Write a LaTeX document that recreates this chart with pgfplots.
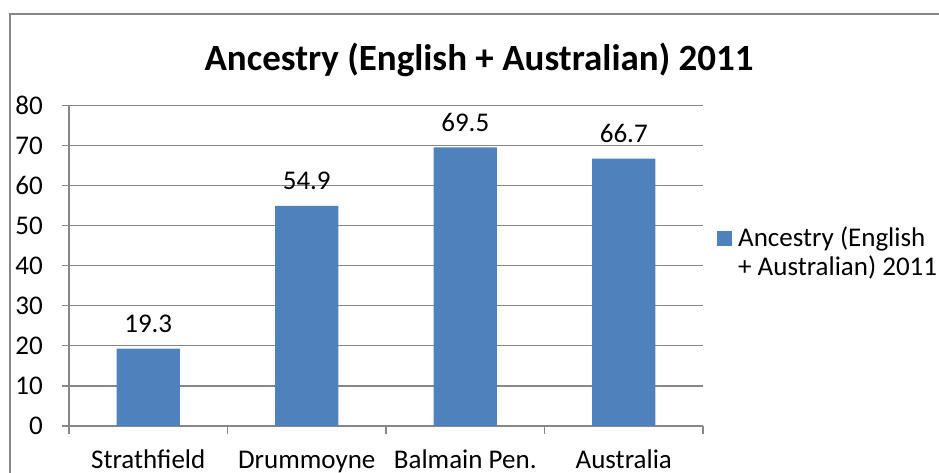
\documentclass[border=0pt]{standalone}
\usepackage{fontspec}
\setmainfont{Carlito}
\usepackage{pgfplots}
\pgfplotsset{compat=1.18}
\definecolor{barblue}{HTML}{4F81BD}
\definecolor{axgray}{HTML}{868686}
\begin{document}
\begin{tikzpicture}[x=1pt,y=1pt]
\useasboundingbox (0,0) rectangle (939,473);
\draw[axgray, line width=1.3pt] (10,0) -- (10,459) -- (940,459);
\node[anchor=base, inner sep=0pt, font=\fontsize{37}{44}\selectfont\bfseries] at (479,402) {Ancestry (English + Australian) 2011};
\begin{axis}[
  at={(69pt,47pt)}, anchor=south west,
  scale only axis, width=634pt, height=320.7pt,
  xmin=-0.5, xmax=3.5, ymin=0, ymax=80,
  ytick={0,10,...,80},
  xtick={0,1,2,3},
  xticklabels={Strathfield, Drummoyne, Balmain Pen., Australia},
  minor xtick={-0.5,0.5,1.5,2.5,3.5},
  axis x line*=bottom, axis y line*=left,
  axis line style={axgray, line width=1.3pt, -},
  ymajorgrids, grid style={axgray, line width=1.3pt},
  tick align=outside,
  major tick length=7pt, minor tick length=8pt,
  tick style={axgray, line width=1.3pt},
  major x tick style={draw=none},
  ticklabel style={font=\fontsize{27}{32}\selectfont},
  /pgf/number format/assume math mode=true,
  yticklabel style={inner sep=0pt, anchor=east, xshift=-19pt},
  xticklabel style={inner sep=0pt, anchor=base, yshift=-36pt},
  legend style={draw=none, fill=none, at={(1.022,0.624)}, anchor=north west,
    font=\fontsize{27}{29}\selectfont, inner sep=0pt,
    nodes={inner sep=0pt, anchor=base west}, column sep=6pt},
  legend cell align=left,
]
\addplot[ybar, fill=barblue, draw=none, bar width=0.4,
  nodes near coords,
  nodes near coords style={anchor=base, inner sep=0pt, yshift=16pt, font=\fontsize{27}{32}\selectfont, text=black},
  legend image code/.code={\fill[barblue] (0pt,0pt) rectangle (15pt,15pt);}]
  coordinates {(0,19.3) (1,54.9) (2,69.5) (3,66.7)};
\addlegendentry{\begin{tabular}[t]{@{}l@{}}Ancestry (English\\+ Australian) 2011\end{tabular}}
\end{axis}
\end{tikzpicture}
\end{document}
